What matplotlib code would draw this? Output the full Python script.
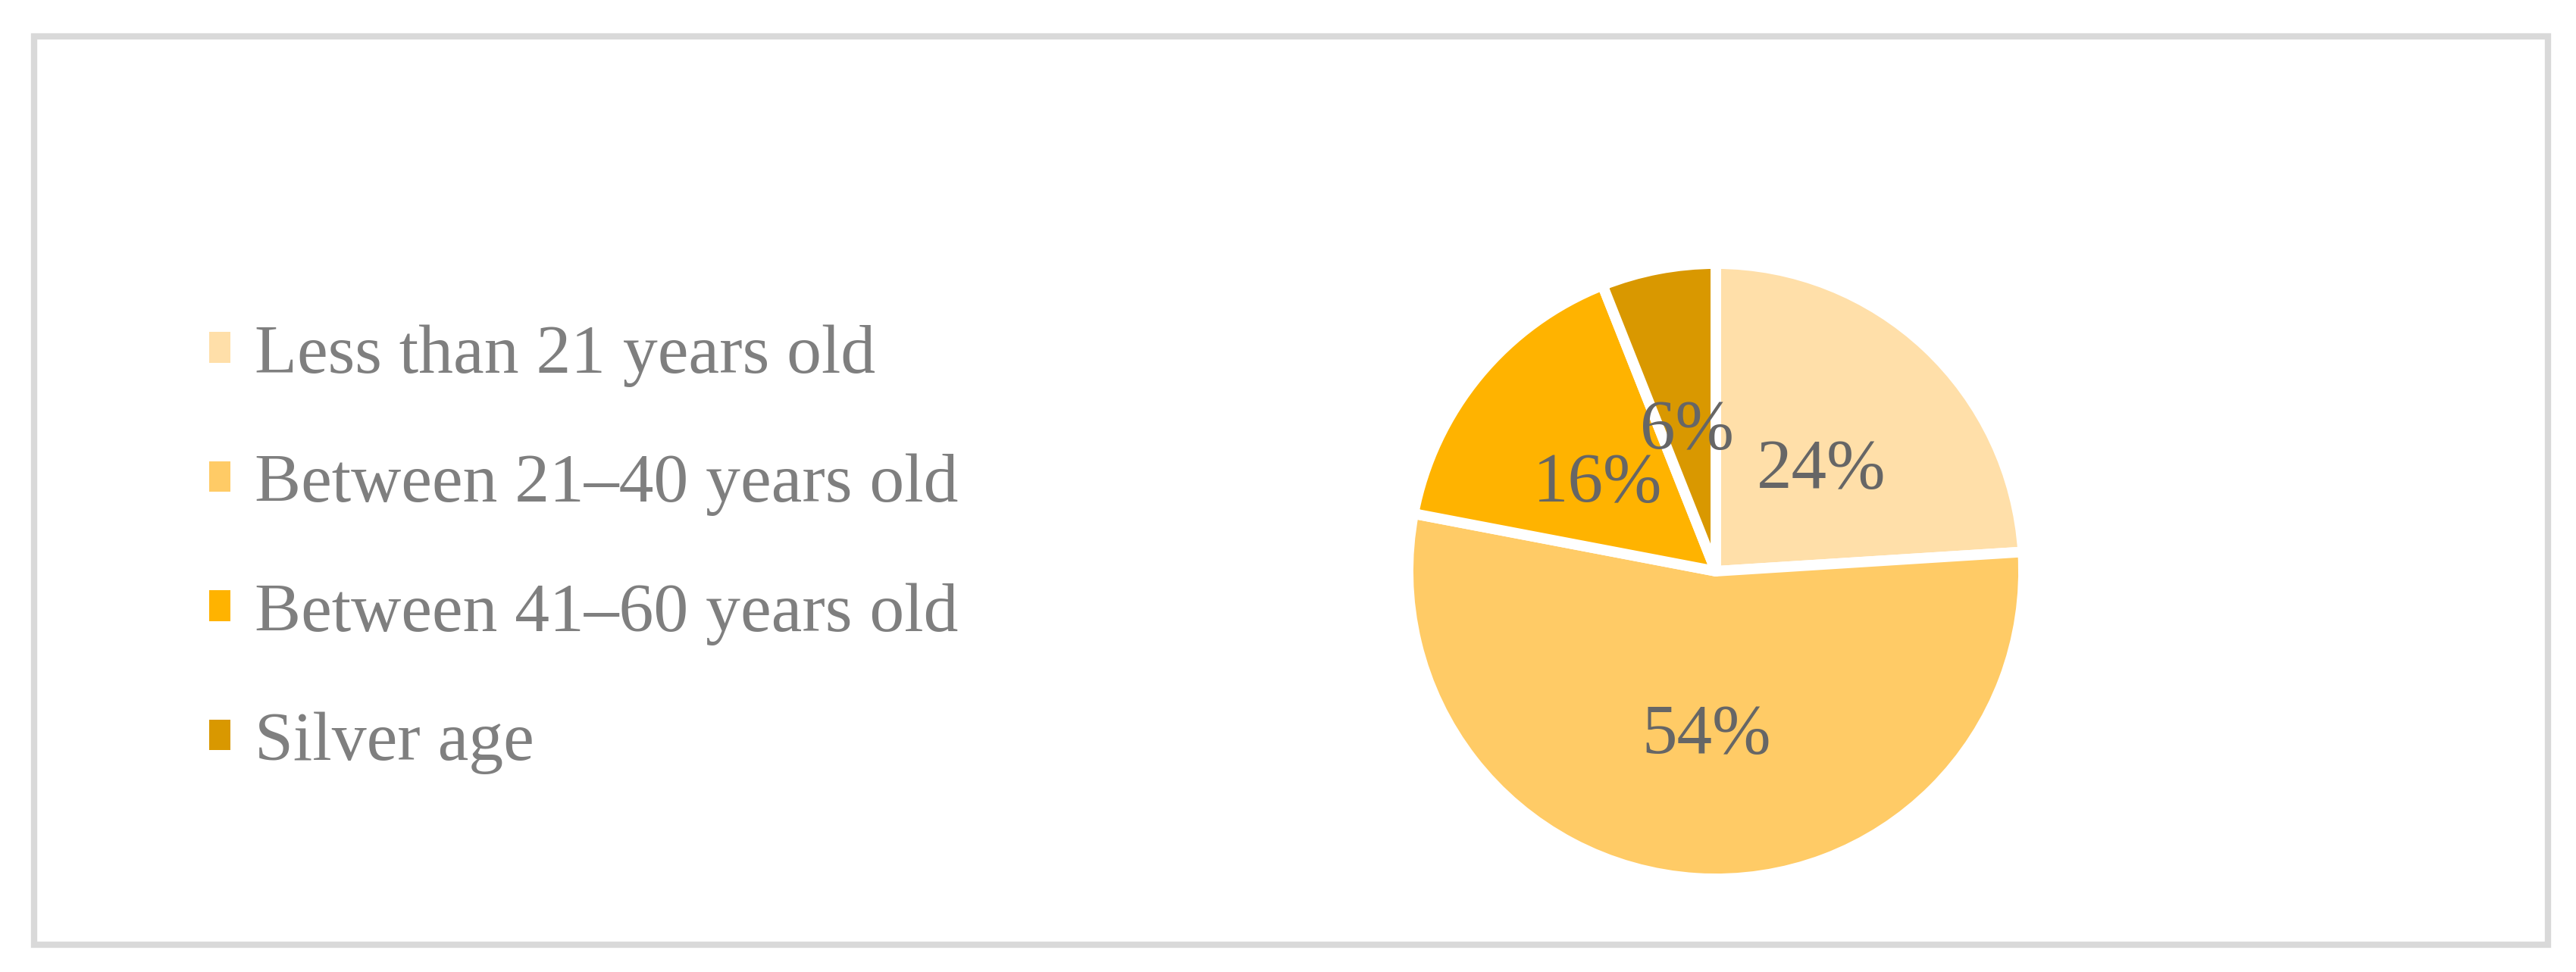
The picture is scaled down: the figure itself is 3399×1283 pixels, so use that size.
import matplotlib
matplotlib.use("Agg")
import matplotlib.pyplot as plt
from matplotlib.patches import Patch, Rectangle
from matplotlib.transforms import ScaledTranslation

# age groups of respondents
labels = ["Less than 21 years old", "Between 21\u201340 years old",
          "Between 41\u201360 years old", "Silver age"]
shares = [24, 54, 16, 6]
colors = ["#FFDFA9", "#FFCB66", "#FFB300", "#D99800"]

W, H = 3399, 1283
fig = plt.figure(figsize=(W / 100, H / 100), dpi=100)
fig.patch.set_facecolor("white")

# grey frame round the chart
fig.patches.append(Rectangle((45 / W, 36 / H), (3362 - 45) / W, (1241 - 42) / H,
                             transform=fig.transFigure, fill=False,
                             edgecolor="#D9D9D9", linewidth=6))

# pie
cx, cy, r = 2264, 754, 406
ax = fig.add_axes([(cx - r) / W, 1 - (cy + r) / H, 2 * r / W, 2 * r / H])
wedges, texts, autotexts = ax.pie(
    shares, colors=colors, startangle=90, counterclock=False, radius=1,
    autopct="%d%%", pctdistance=0.5,
    wedgeprops=dict(edgecolor="white", linewidth=10, joinstyle="round"),
    textprops=dict(fontsize=67, color="#666666", family="Liberation Serif"))
# nudge the percentages down a bit
shift = ScaledTranslation(0, -0.15, fig.dpi_scale_trans)
for t in autotexts:
    t.set_transform(t.get_transform() + shift)
ax.set_xlim(-1, 1)
ax.set_ylim(-1, 1)
ax.set_aspect("equal")

handles = [Patch(facecolor=c, edgecolor="none") for c in colors]
leg = fig.legend(handles, labels, loc="upper left",
                 bbox_to_anchor=(276 / W, 1 - 428 / H),
                 frameon=False, borderpad=0, borderaxespad=0,
                 handlelength=0.31, handleheight=0.31, handletextpad=0.35,
                 labelspacing=0.96,
                 prop=dict(family="Liberation Serif", size=66))
for t in leg.get_texts():
    t.set_color("#7F7F7F")

fig.savefig("out.png", dpi=100)
